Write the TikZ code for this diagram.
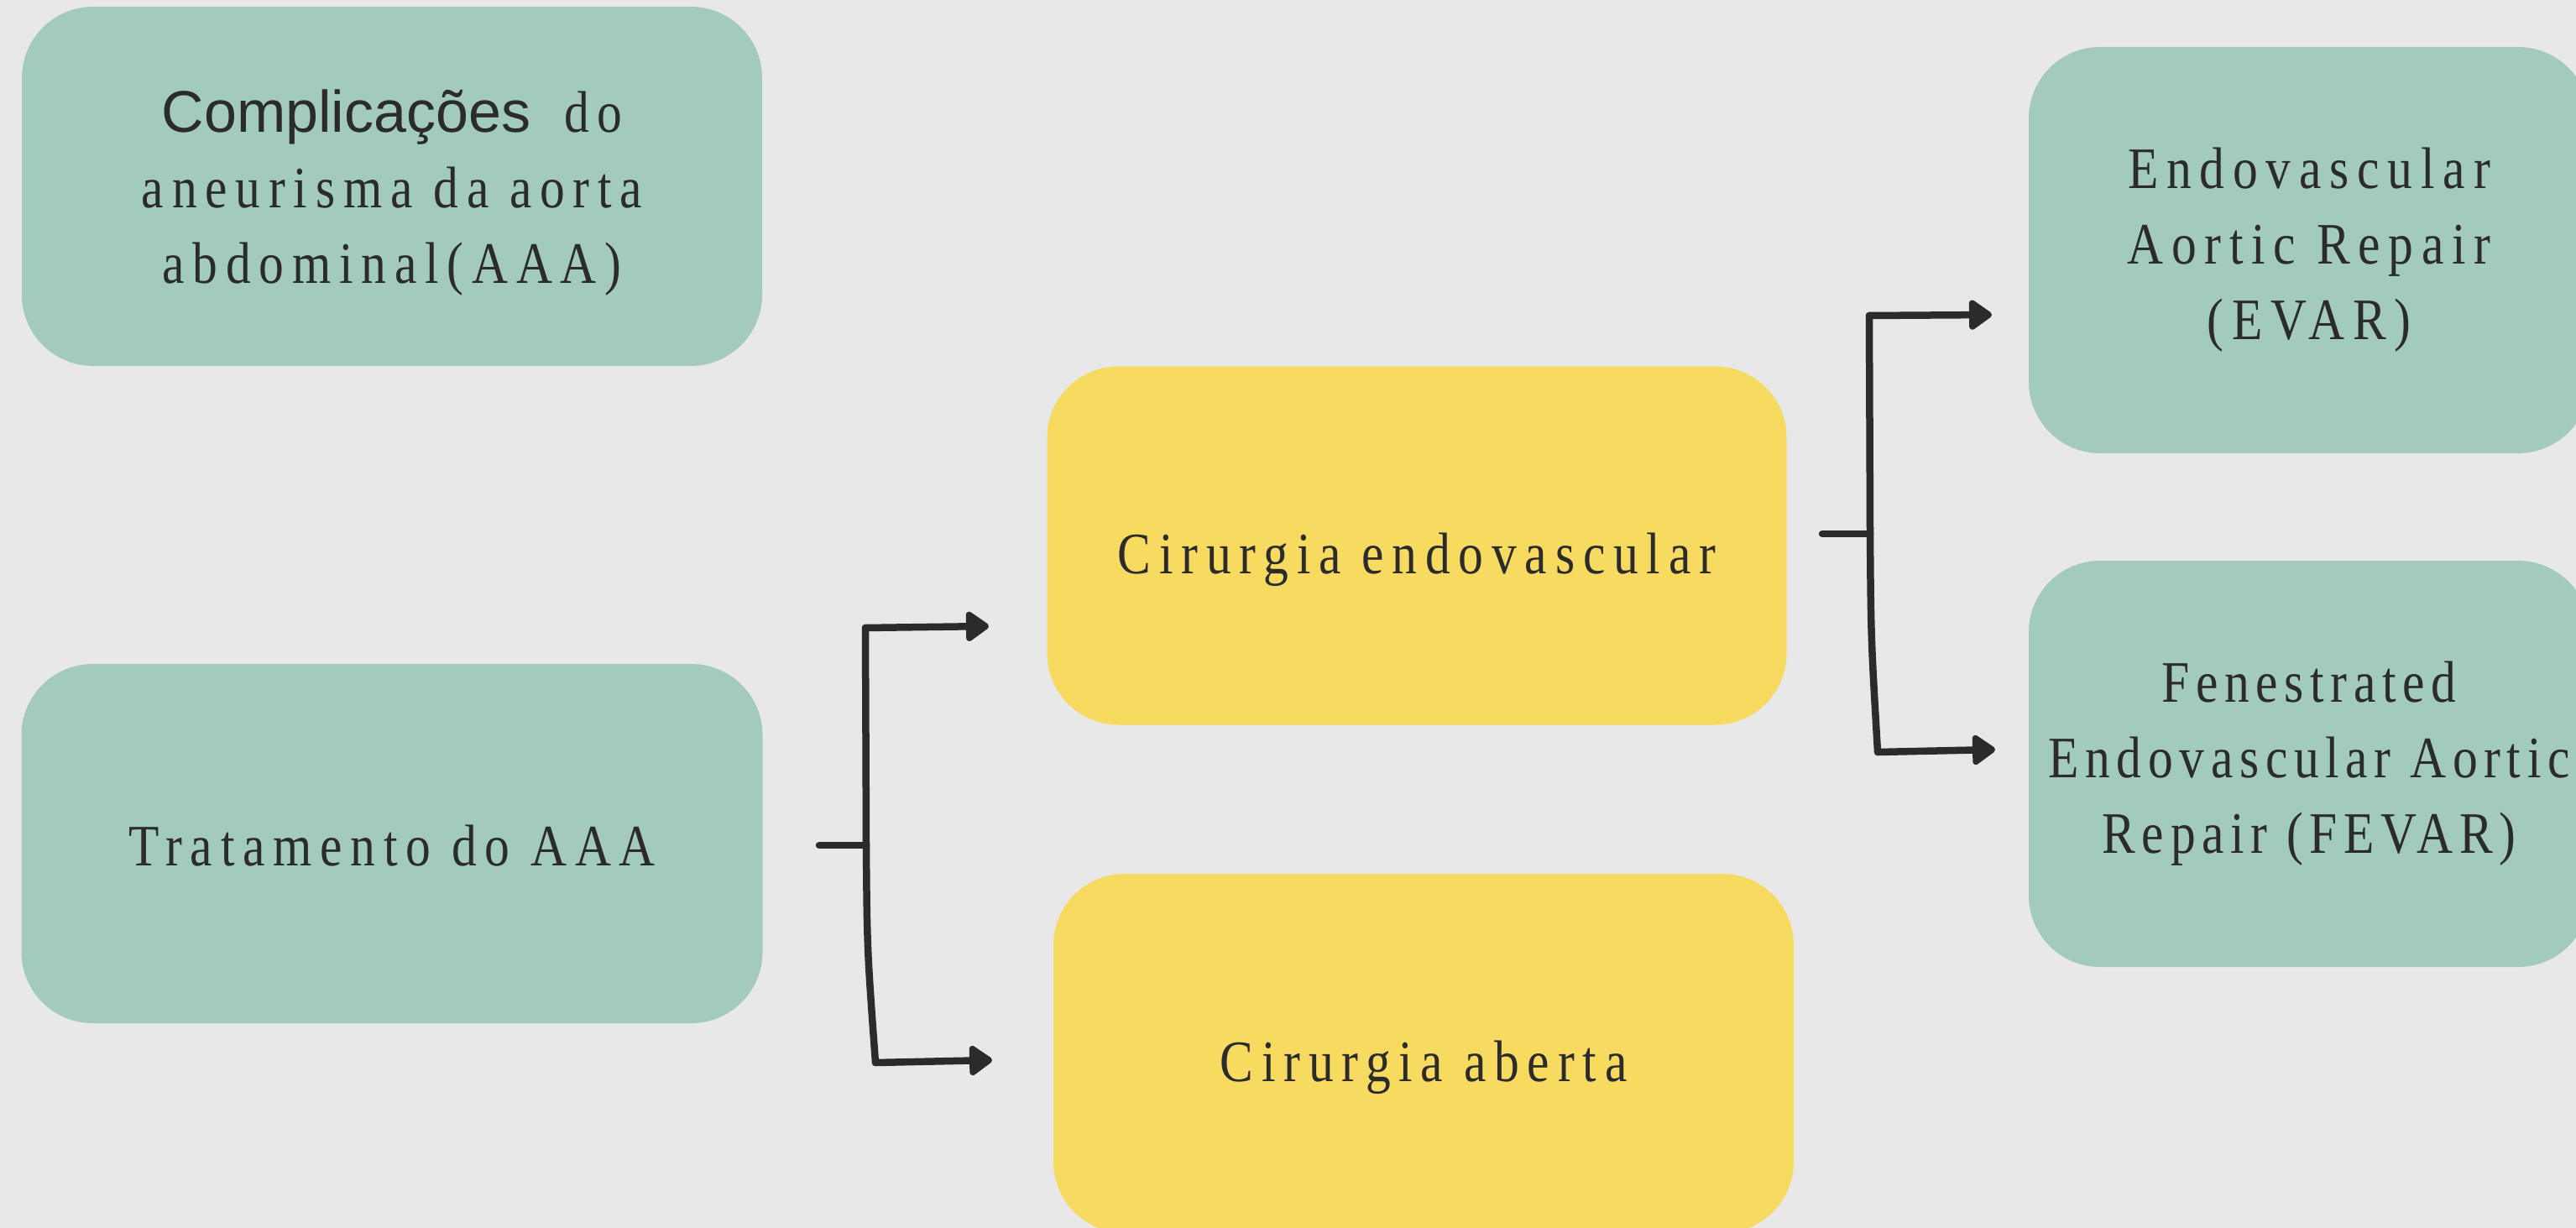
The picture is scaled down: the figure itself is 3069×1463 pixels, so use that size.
\documentclass[tikz,border=0pt]{standalone}
\usepackage{fontspec}
\setmainfont{Liberation Serif}[FakeStretch=0.85,LetterSpace=14]
\newfontfamily\sansA{Liberation Sans}
\newfontfamily\serifTight{Liberation Serif}[FakeStretch=0.85,LetterSpace=11]
\usetikzlibrary{arrows.meta}
\definecolor{bgc}{HTML}{E8E8E8}
\definecolor{greenbox}{HTML}{A2CBBE}
\definecolor{yellowbox}{HTML}{F7DB60}
\definecolor{txt}{HTML}{2B2B2B}
\tikzset{
  boxbase/.style={rectangle, rounded corners=85pt, inner sep=0pt, text=txt, align=center,
    font=\fontsize{70}{90}\selectfont},
  gbox/.style={boxbase, fill=greenbox},
  ybox/.style={boxbase, fill=yellowbox},
  conn/.style={draw=txt, line width=8.5pt, line cap=round, line join=round},
  arr/.style={conn, -{Triangle[length=30pt,width=40pt,round]}},
}
\begin{document}
\begin{tikzpicture}[x=1pt,y=-1pt]
\useasboundingbox (0,0) rectangle (3069,1463);
\clip (0,0) rectangle (3069,1463);
\fill[bgc] (0,0) rectangle (3069,1463);

\node[gbox, minimum width=882pt, minimum height=428pt] (comp) at (467,222)
  {\parbox{800pt}{\vspace*{16pt}\centering {\sansA Complicações}\hspace{40pt}do\\aneurisma da aorta\\abdominal(AAA)}};
\node[gbox, minimum width=883pt, minimum height=428pt, text height=72pt, text depth=20pt] (trat) at (467,1005)
  {Tratamento do AAA};
\node[ybox, minimum width=881pt, minimum height=427pt, text height=86pt, text depth=20pt] (endo) at (1688,650)
  {Cirurgia endovascular};
\node[ybox, minimum width=882pt, minimum height=428pt, text height=86pt, text depth=20pt] (aberta) at (1696,1255)
  {Cirurgia aberta};
\node[gbox, minimum width=668pt, minimum height=484pt] (evar) at (2751,298)
  {Endovascular\\Aortic Repair\\(EVAR)};
\node[gbox, minimum width=668pt, minimum height=484pt, font=\fontsize{70}{90}\serifTight] (fevar) at (2751,910)
  {Fenestrated\\Endovascular Aortic\\Repair (FEVAR)};

% bracket 1
\coordinate (s1) at (976,1007);
\coordinate (j1) at (1032,1007);
\coordinate (t1) at (1031,748);
\coordinate (b1) at (1043,1266);
\coordinate (a1) at (1178,746);
\coordinate (c1) at (1182,1263);
\draw[conn] (s1) -- (j1);
\draw[conn] (t1) -- (j1) .. controls (1033,1130) .. (b1);
\draw[arr] (t1) -- (a1);
\draw[arr] (b1) -- (c1);

% bracket 2
\coordinate (s2) at (2171,636);
\coordinate (j2) at (2228,636);
\coordinate (t2) at (2227,376);
\coordinate (b2) at (2237,896);
\coordinate (a2) at (2373,375);
\coordinate (c2) at (2377,893);
\draw[conn] (s2) -- (j2);
\draw[conn] (t2) -- (j2) .. controls (2229,760) .. (b2);
\draw[arr] (t2) -- (a2);
\draw[arr] (b2) -- (c2);
\end{tikzpicture}
\end{document}
